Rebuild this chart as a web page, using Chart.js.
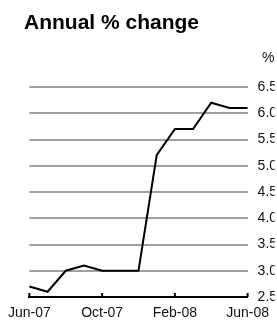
<!DOCTYPE html>
<html>
<head>
<meta charset="utf-8">
<script src="https://cdn.jsdelivr.net/npm/chart.js@4"></script>
<style>
  html, body { margin: 0; padding: 0; background: #fff; }
  #wrap { width: 277px; height: 322px; }
</style>
</head>
<body>
<div id="wrap"><canvas id="myChart" width="277" height="322"></canvas></div>
<script>
// monthly data, Jun-07 .. Jun-08
const months = ['Jun-07', 'Jul-07', 'Aug-07', 'Sep-07', 'Oct-07', 'Nov-07', 'Dec-07',
  'Jan-08', 'Feb-08', 'Mar-08', 'Apr-08', 'May-08', 'Jun-08'];
const annualChange = [2.7, 2.6, 3.0, 3.1, 3.0, 3.0, 3.0, 5.2, 5.7, 5.7, 6.2, 6.1, 6.1];
const shownLabels = ['Jun-07', 'Oct-07', 'Feb-08', 'Jun-08'];
const chartTitle = 'Annual % change';
const unitLabel = '%';

Chart.defaults.font.family = "'Liberation Sans', Arial, sans-serif";
Chart.defaults.font.size = 14;
Chart.defaults.color = '#111';

// title + unit text and the small upward tick marks on the x axis
const extras = {
  id: 'extras',
  afterDraw(chart) {
    const ctx = chart.ctx;
    const x = chart.scales.x;
    ctx.save();
    ctx.fillStyle = '#000';
    ctx.font = "bold 21px 'Liberation Sans', Arial, sans-serif";
    ctx.textBaseline = 'alphabetic';
    ctx.fillText(chartTitle, 24, 29);
    ctx.font = "14px 'Liberation Sans', Arial, sans-serif";
    ctx.fillStyle = '#111';
    ctx.fillText(unitLabel, 262, 62);
    // tick marks pointing up
    ctx.strokeStyle = '#000';
    ctx.lineWidth = 2;
    x.ticks.forEach((t, i) => {
      if (!shownLabels.includes(months[t.value])) return;
      const px = x.getPixelForTick(i);
      ctx.beginPath();
      ctx.moveTo(px, x.top);
      ctx.lineTo(px, x.top - 4);
      ctx.stroke();
    });
    ctx.restore();
  },
};

const ctx = document.getElementById('myChart');
const chart = new Chart(ctx, {
  type: 'line',
  data: {
    labels: months,
    datasets: [
      {
        data: annualChange,
        borderColor: '#000',
        borderWidth: 2,
        pointRadius: 0,
        tension: 0,
        fill: false,
      },
    ],
  },
  options: {
    responsive: false,
    animation: false,
    layout: {
      padding: { top: 87, left: 29, right: 0, bottom: 0 },
    },
    plugins: {
      legend: { display: false },
      tooltip: { enabled: false },
    },
    scales: {
      x: {
        offset: false,
        grid: { display: false, drawTicks: false },
        border: { display: true, color: '#000', width: 2 },
        ticks: {
          autoSkip: false,
          maxRotation: 0,
          padding: 8,
          callback: function (val) {
            const lab = this.getLabelForValue(val);
            return shownLabels.includes(lab) ? lab : '';
          },
        },
        afterFit: (scale) => {
          scale.height = 25;
        },
      },
      y: {
        position: 'right',
        min: 2.5,
        max: 6.5,
        grid: { color: '#a0a0a0', lineWidth: 2, drawTicks: false },
        border: { display: false },
        ticks: {
          stepSize: 0.5,
          padding: 10,
          callback: (v) => v.toFixed(1),
        },
        afterFit: (scale) => {
          scale.width = 27;
        },
      },
    },
  },
  plugins: [extras],
});
</script>
</body>
</html>
